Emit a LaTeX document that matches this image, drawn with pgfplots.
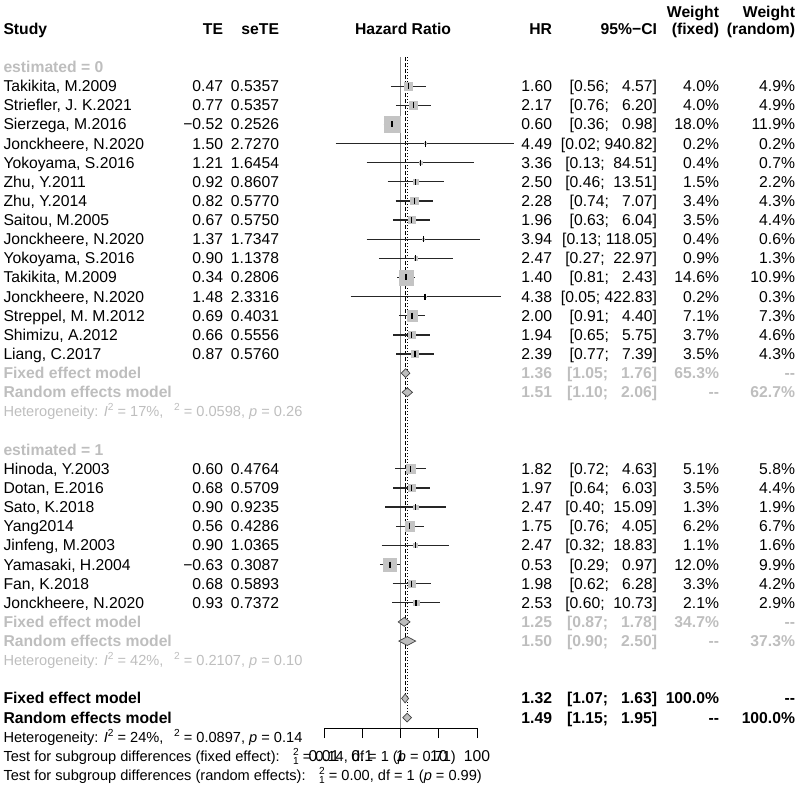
\documentclass[border=0pt]{standalone}
\usepackage{pgfplots}
\pgfplotsset{compat=1.18}
\usepackage{pgfplotstable}
\usepackage{fontspec}
\setmainfont{Liberation Sans}
\definecolor{grtxt}{HTML}{BEBEBE}
\definecolor{sq}{HTML}{C4C4C4}
\definecolor{dia}{HTML}{BEBEBE}
\definecolor{diaedge}{HTML}{404040}
\definecolor{nul}{HTML}{8C8C8C}
\newcommand\hs{\fontsize{14.6}{17}\selectfont}
\newcommand\sups[1]{\raisebox{0.42em}{\fontsize{10.2}{11}\selectfont #1}}
\newcommand\chisq{\hspace{0.55em}\rlap{\raisebox{0.42em}{\fontsize{10.2}{11}\selectfont 2}}\raisebox{-0.22em}{\fontsize{10.2}{11}\selectfont 1}}
\newcommand\tausq{\hspace{0.45em}\sups{2}}

\pgfplotstableread{
k hr lo hi ms
2 1.60 0.56 4.57 3.84
3 2.17 0.76 6.20 3.84
4 0.60 0.36 0.98 8.15
5 4.49 0.02 940.82 0.86
6 3.36 0.13 84.51 1.21
7 2.50 0.46 13.51 2.35
8 2.28 0.74 7.07 3.54
9 1.96 0.63 6.04 3.59
10 3.94 0.13 118.05 1.21
11 2.47 0.27 22.97 1.82
12 1.40 0.81 2.43 7.34
13 4.38 0.05 422.83 0.86
14 2.00 0.91 4.40 5.12
15 1.94 0.65 5.75 3.69
16 2.39 0.77 7.39 3.59
22 1.82 0.72 4.63 4.34
23 1.97 0.64 6.03 3.59
24 2.47 0.40 15.09 2.19
25 1.75 0.76 4.05 4.78
26 2.47 0.32 18.83 2.01
27 0.53 0.29 0.97 6.65
28 1.98 0.62 6.28 3.49
29 2.53 0.60 10.73 2.78
}\studies

% study row: k, name, TE, seTE, HR, lower, upper(padded), wfixed, wrandom
\newcommand\srow[9]{%
\node[anchor=base west] at (3.5,#1) {#2};
\node[anchor=base east] at (223,#1) {#3};
\node[anchor=base east] at (279,#1) {#4};
\node[anchor=base east] at (552,#1) {#5};
\node[anchor=base east] at (657,#1) {[#6;\ #7]};
\node[anchor=base east] at (719,#1) {#8\%};
\node[anchor=base east] at (795,#1) {#9\%};
}
% summary row: k, name, HR, lower, upper, wf, wr, color
\newcommand\mrow[8]{%
\node[anchor=base west, text=#8, font=\bfseries] at (3.5,#1) {#2};
\node[anchor=base east, text=#8, font=\bfseries] at (552,#1) {#3};
\node[anchor=base east, text=#8, font=\bfseries] at (657,#1) {[#4;\ #5]};
\node[anchor=base east, text=#8, font=\bfseries] at (719,#1) {#6};
\node[anchor=base east, text=#8, font=\bfseries] at (795,#1) {#7};
}

\begin{document}
\fontsize{15.7}{18}\selectfont
\begin{tikzpicture}
\useasboundingbox (0,0) rectangle (800pt,-789pt);
\begin{axis}[
  at={(324pt,-728pt)}, anchor=south west,
  scale only axis, width=153pt, height=671pt,
  xmode=log, xmin=0.01, xmax=100,
  ymin=-35.544, ymax=-0.4774,
  axis x line=bottom, axis y line=none,
  x axis line style={-, line width=0.9pt, black},
  xtick={0.01,0.1,1,10,100}, xticklabels={},
  xminorticks=false,
  xtick align=outside, major tick length=10pt,
  tick style={black, line width=0.9pt},
  clip=false,
]
% squares
\addplot[only marks, mark=square*, scatter,
  scatter/use mapped color={draw=sq, fill=sq},
  visualization depends on={\thisrow{ms}\as\msz},
  scatter/@pre marker code/.append style={/tikz/mark size=\msz pt}]
  table[x=hr, y expr=-\thisrow{k}] {\studies};
% null line
\addplot[nul, line width=1.8pt] coordinates {(1,-0.4774) (1,-35.544)};
% fixed and random overall lines
\addplot[black, line width=0.8pt, dash pattern=on 3.5pt off 2.5pt] coordinates {(1.32,-0.4774) (1.32,-33.77)};
\addplot[black, line width=0.8pt, dash pattern=on 1pt off 2pt] coordinates {(1.49,-0.4774) (1.49,-34.76)};
% confidence intervals
\addplot[black!85, line width=1.25pt, unbounded coords=jump] coordinates {
(0.56,-2) (4.57,-2) (nan,nan)
(0.76,-3) (6.20,-3) (nan,nan)
(0.36,-4) (0.98,-4) (nan,nan)
(0.02,-5) (940.82,-5) (nan,nan)
(0.13,-6) (84.51,-6) (nan,nan)
(0.46,-7) (13.51,-7) (nan,nan)
(0.74,-8) (7.07,-8) (nan,nan)
(0.63,-9) (6.04,-9) (nan,nan)
(0.13,-10) (118.05,-10) (nan,nan)
(0.27,-11) (22.97,-11) (nan,nan)
(0.81,-12) (2.43,-12) (nan,nan)
(0.05,-13) (422.83,-13) (nan,nan)
(0.91,-14) (4.40,-14) (nan,nan)
(0.65,-15) (5.75,-15) (nan,nan)
(0.77,-16) (7.39,-16) (nan,nan)
(0.72,-22) (4.63,-22) (nan,nan)
(0.64,-23) (6.03,-23) (nan,nan)
(0.40,-24) (15.09,-24) (nan,nan)
(0.76,-25) (4.05,-25) (nan,nan)
(0.32,-26) (18.83,-26) (nan,nan)
(0.29,-27) (0.97,-27) (nan,nan)
(0.62,-28) (6.28,-28) (nan,nan)
(0.60,-29) (10.73,-29)
};
% point estimate ticks
\addplot[only marks, mark=|, mark size=3pt, mark options={black, line width=1.2pt}]
  table[x=hr, y expr=-\thisrow{k}] {\studies};
% diamonds
\addplot[fill=dia, draw=diaedge, line width=0.7pt] coordinates {(1.05,-17) (1.36,-16.77) (1.76,-17) (1.36,-17.23)} -- cycle;
\addplot[fill=dia, draw=diaedge, line width=0.7pt] coordinates {(1.10,-18) (1.51,-17.77) (2.06,-18) (1.51,-18.23)} -- cycle;
\addplot[fill=dia, draw=diaedge, line width=0.7pt] coordinates {(0.87,-30) (1.25,-29.77) (1.78,-30) (1.25,-30.23)} -- cycle;
\addplot[fill=dia, draw=diaedge, line width=0.7pt] coordinates {(0.90,-31) (1.50,-30.77) (2.50,-31) (1.50,-31.23)} -- cycle;
\addplot[fill=dia, draw=diaedge, line width=0.7pt] coordinates {(1.07,-34) (1.32,-33.77) (1.63,-34) (1.32,-34.23)} -- cycle;
\addplot[fill=dia, draw=diaedge, line width=0.7pt] coordinates {(1.15,-35) (1.49,-34.77) (1.95,-35) (1.49,-35.23)} -- cycle;
% tick labels
\node[anchor=base, inner sep=0pt] at (axis cs:0.01,-37.287) {0.01};
\node[anchor=base, inner sep=0pt] at (axis cs:0.1,-37.287) {0.1};
\node[anchor=base, inner sep=0pt] at (axis cs:1,-37.287) {1};
\node[anchor=base, inner sep=0pt] at (axis cs:10,-37.287) {10};
\node[anchor=base, inner sep=0pt] at (axis cs:100,-37.287) {100};
\end{axis}

\begin{scope}[x=1pt, y=-19.135pt, yshift=-53.365pt, every node/.style={inner sep=0pt, outer sep=0pt}]
% headers
\node[anchor=base west, font=\bfseries] at (3.5,-1) {Study};
\node[anchor=base east, font=\bfseries] at (223,-1) {TE};
\node[anchor=base east, font=\bfseries] at (279,-1) {seTE};
\node[anchor=base, font=\bfseries] at (403,-1) {Hazard Ratio};
\node[anchor=base east, font=\bfseries] at (552,-1) {HR};
\node[anchor=base east, font=\bfseries] at (657,-1) {95\%−CI};
\node[anchor=base east, font=\bfseries] at (719,-1.85) {Weight};
\node[anchor=base east, font=\bfseries] at (719,-1) {(fixed)};
\node[anchor=base east, font=\bfseries] at (795,-1.85) {Weight};
\node[anchor=base east, font=\bfseries] at (795,-1) {(random)};
% subgroup 0
\node[anchor=base west, text=grtxt, font=\bfseries] at (3.5,1) {estimated = 0};
\srow{2}{Takikita, M.2009}{0.47}{0.5357}{1.60}{0.56}{\ \ 4.57}{4.0}{4.9}
\srow{3}{Striefler, J. K.2021}{0.77}{0.5357}{2.17}{0.76}{\ \ 6.20}{4.0}{4.9}
\srow{4}{Sierzega, M.2016}{−0.52}{0.2526}{0.60}{0.36}{\ \ 0.98}{18.0}{11.9}
\srow{5}{Jonckheere, N.2020}{1.50}{2.7270}{4.49}{0.02}{940.82}{0.2}{0.2}
\srow{6}{Yokoyama, S.2016}{1.21}{1.6454}{3.36}{0.13}{\ 84.51}{0.4}{0.7}
\srow{7}{Zhu, Y.2011}{0.92}{0.8607}{2.50}{0.46}{\ 13.51}{1.5}{2.2}
\srow{8}{Zhu, Y.2014}{0.82}{0.5770}{2.28}{0.74}{\ \ 7.07}{3.4}{4.3}
\srow{9}{Saitou, M.2005}{0.67}{0.5750}{1.96}{0.63}{\ \ 6.04}{3.5}{4.4}
\srow{10}{Jonckheere, N.2020}{1.37}{1.7347}{3.94}{0.13}{118.05}{0.4}{0.6}
\srow{11}{Yokoyama, S.2016}{0.90}{1.1378}{2.47}{0.27}{\ 22.97}{0.9}{1.3}
\srow{12}{Takikita, M.2009}{0.34}{0.2806}{1.40}{0.81}{\ \ 2.43}{14.6}{10.9}
\srow{13}{Jonckheere, N.2020}{1.48}{2.3316}{4.38}{0.05}{422.83}{0.2}{0.3}
\srow{14}{Streppel, M. M.2012}{0.69}{0.4031}{2.00}{0.91}{\ \ 4.40}{7.1}{7.3}
\srow{15}{Shimizu, A.2012}{0.66}{0.5556}{1.94}{0.65}{\ \ 5.75}{3.7}{4.6}
\srow{16}{Liang, C.2017}{0.87}{0.5760}{2.39}{0.77}{\ \ 7.39}{3.5}{4.3}
\mrow{17}{Fixed effect model}{1.36}{1.05}{\ \ 1.76}{65.3\%}{-{}-}{grtxt}
\mrow{18}{Random effects model}{1.51}{1.10}{\ \ 2.06}{-{}-}{62.7\%}{grtxt}
\node[anchor=base west, text=grtxt, font=\hs] at (3.5,19) {Heterogeneity: \textit{I}\sups{2} = 17\%, \tausq{} = 0.0598, \textit{p} = 0.26};
% subgroup 1
\node[anchor=base west, text=grtxt, font=\bfseries] at (3.5,21) {estimated = 1};
\srow{22}{Hinoda, Y.2003}{0.60}{0.4764}{1.82}{0.72}{\ \ 4.63}{5.1}{5.8}
\srow{23}{Dotan, E.2016}{0.68}{0.5709}{1.97}{0.64}{\ \ 6.03}{3.5}{4.4}
\srow{24}{Sato, K.2018}{0.90}{0.9235}{2.47}{0.40}{\ 15.09}{1.3}{1.9}
\srow{25}{Yang2014}{0.56}{0.4286}{1.75}{0.76}{\ \ 4.05}{6.2}{6.7}
\srow{26}{Jinfeng, M.2003}{0.90}{1.0365}{2.47}{0.32}{\ 18.83}{1.1}{1.6}
\srow{27}{Yamasaki, H.2004}{−0.63}{0.3087}{0.53}{0.29}{\ \ 0.97}{12.0}{9.9}
\srow{28}{Fan, K.2018}{0.68}{0.5893}{1.98}{0.62}{\ \ 6.28}{3.3}{4.2}
\srow{29}{Jonckheere, N.2020}{0.93}{0.7372}{2.53}{0.60}{\ 10.73}{2.1}{2.9}
\mrow{30}{Fixed effect model}{1.25}{0.87}{\ \ 1.78}{34.7\%}{-{}-}{grtxt}
\mrow{31}{Random effects model}{1.50}{0.90}{\ \ 2.50}{-{}-}{37.3\%}{grtxt}
\node[anchor=base west, text=grtxt, font=\hs] at (3.5,32) {Heterogeneity: \textit{I}\sups{2} = 42\%, \tausq{} = 0.2107, \textit{p} = 0.10};
% overall
\mrow{34}{Fixed effect model}{1.32}{1.07}{\ \ 1.63}{100.0\%}{-{}-}{black}
\mrow{35}{Random effects model}{1.49}{1.15}{\ \ 1.95}{-{}-}{100.0\%}{black}
\node[anchor=base west, font=\hs] at (3.5,36) {Heterogeneity: \textit{I}\sups{2} = 24\%, \tausq{} = 0.0897, \textit{p} = 0.14};
\node[anchor=base west, font=\hs] at (3.5,37) {Test for subgroup differences (fixed effect): \chisq{} = 0.14, df = 1 (\textit{p} = 0.71)};
\node[anchor=base west, font=\hs] at (3.5,38) {Test for subgroup differences (random effects): \chisq{} = 0.00, df = 1 (\textit{p} = 0.99)};
\end{scope}
\end{tikzpicture}
\end{document}
